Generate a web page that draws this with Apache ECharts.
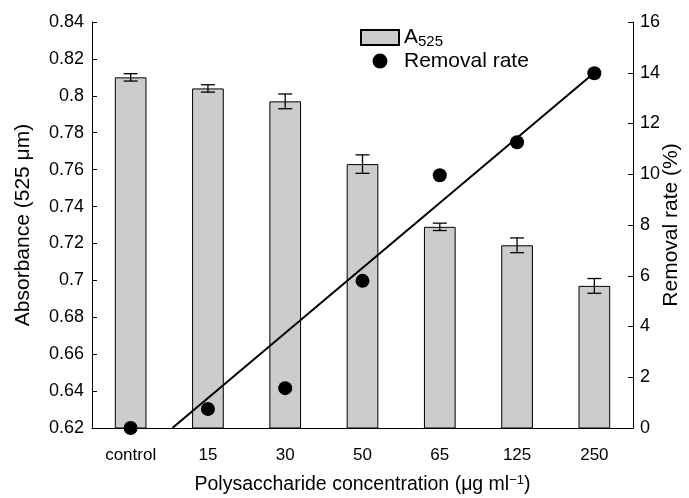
<!DOCTYPE html>
<html><head><meta charset="utf-8">
<script src="https://cdn.jsdelivr.net/npm/echarts@6/dist/echarts.min.js"></script>
<style>html,body{margin:0;padding:0;background:#fff}#c{width:689px;height:498px}</style>
</head><body><div id="c"></div>
<script>
const categories = ['control','15','30','50','65','125','250'];
const absorbance = [0.810, 0.804, 0.797, 0.763, 0.729, 0.719, 0.697];
const absErr = [0.002, 0.002, 0.004, 0.005, 0.002, 0.004, 0.004];
const removalRate = [0.0, 0.75, 1.57, 5.8, 9.96, 11.26, 13.98];
const trendStart = [0.54, 0];
const trendEnd = [6, 14];

const F = 'Liberation Sans, Arial, sans-serif';
const chart = echarts.init(document.getElementById('c'));
const errData = absorbance.map((v,i)=>[i, v - absErr[i], v + absErr[i]]);
chart.setOption({
  animation:false,
  textStyle:{fontFamily:F},
  grid:{left:92,right:56,top:22,bottom:70,containLabel:false,outerBoundsMode:'none'},
  legend:{
    orient:'vertical', left:355, top:22, itemWidth:38, itemHeight:15, itemGap:1,
    textStyle:{fontFamily:F,fontSize:21,color:'#000',padding:[0,0,0,0],
      rich:{a:{fontSize:21,fontFamily:F,color:'#000'},s:{fontSize:15,fontFamily:F,color:'#000',verticalAlign:'bottom',padding:[9,0,0,0]}}},
    data:[{name:'A525',icon:'rect'},{name:'Removal rate',icon:'circle'}],
    formatter:n=> n==='A525' ? '{a|A}{s|525}' : n
  },
  xAxis:[{
    type:'category', data:categories,
    axisLine:{onZero:false,lineStyle:{color:'#000',width:1}},
    axisTick:{inside:true,length:5,lineStyle:{color:'#000'}},
    axisLabel:{color:'#000',fontSize:17,fontFamily:F,margin:19},
    name:'Polysaccharide concentration (μg ml{sup|−1})',
    nameLocation:'middle', nameGap:46,
    nameTextStyle:{color:'#000',fontSize:19.5,fontFamily:F,
      rich:{sup:{fontSize:13,fontFamily:F,color:'#000',verticalAlign:'top',padding:[0,0,9,0]}}}
  },{
    type:'value', min:-0.5, max:6.5, show:false
  }],
  yAxis:[{
    type:'value', min:0.62, max:0.84, interval:0.02,
    splitLine:{show:false},
    axisLine:{show:true,onZero:false,lineStyle:{color:'#000'}},
    axisTick:{show:true,inside:true,length:5,lineStyle:{color:'#000'}},
    axisLabel:{color:'#000',fontSize:18,fontFamily:F,margin:8,formatter:v=>String(+v.toFixed(2))},
    name:'Absorbance (525 μm)', nameLocation:'middle', nameGap:58, nameRotate:90, nameMoveOverlap:false,
    nameTextStyle:{color:'#000',fontSize:21,fontFamily:F}
  },{
    type:'value', min:0, max:16, interval:2,
    splitLine:{show:false},
    axisLine:{show:true,onZero:false,lineStyle:{color:'#000'}},
    axisTick:{show:true,inside:true,length:5,lineStyle:{color:'#000'}},
    axisLabel:{color:'#000',fontSize:18,fontFamily:F,margin:7},
    name:'Removal rate (%)', nameLocation:'middle', nameGap:28, nameRotate:90, nameMoveOverlap:false,
    nameTextStyle:{color:'#000',fontSize:21,fontFamily:F}
  }],
  series:[{
    name:'A525', type:'bar', data:absorbance, barWidth:'41%',
    itemStyle:{color:'#cccccc',borderColor:'#000',borderWidth:1}
  },{
    name:'err', type:'custom', data:errData, z:5,
    renderItem:(params,api)=>{
      const x = api.value(0);
      const lo = api.coord([x, api.value(1)]);
      const hi = api.coord([x, api.value(2)]);
      const w = 7;
      const st = {stroke:'#000',lineWidth:1.3};
      return {type:'group',children:[
        {type:'line',shape:{x1:lo[0],y1:lo[1],x2:hi[0],y2:hi[1]},style:st},
        {type:'line',shape:{x1:lo[0]-w,y1:lo[1],x2:lo[0]+w,y2:lo[1]},style:st},
        {type:'line',shape:{x1:hi[0]-w,y1:hi[1],x2:hi[0]+w,y2:hi[1]},style:st}
      ]};
    }
  },{
    name:'trend', type:'line', xAxisIndex:1, yAxisIndex:1,
    data:[trendStart, trendEnd], symbol:'none', z:6,
    lineStyle:{color:'#000',width:2}
  },{
    name:'Removal rate', type:'scatter', yAxisIndex:1, data:removalRate,
    symbolSize:14, z:7, itemStyle:{color:'#000',opacity:1}
  }]
});
</script></body></html>
